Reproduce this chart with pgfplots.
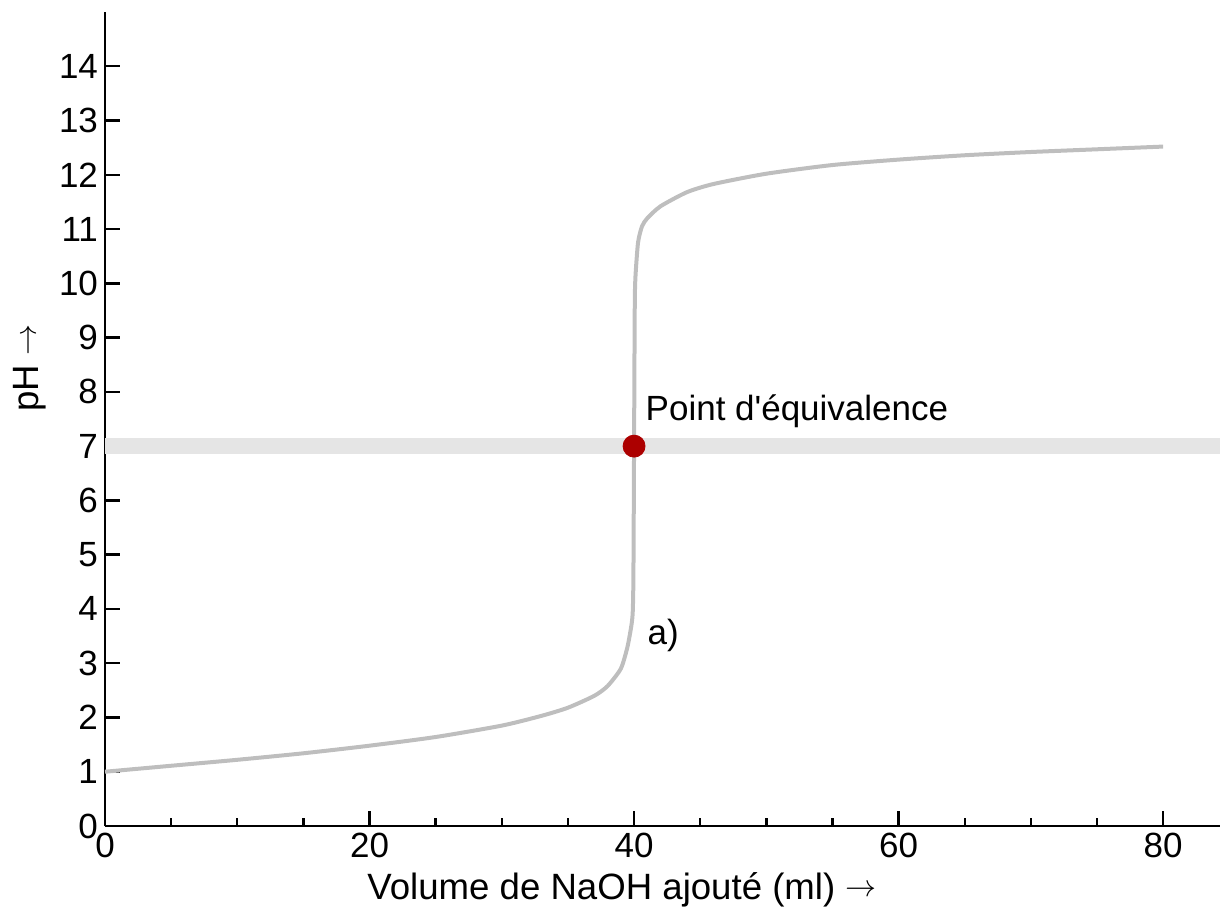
\documentclass[border=0pt]{standalone}
\usepackage{fontspec}
\setmainfont{Liberation Sans}
\usepackage{graphicx}
\usepackage{pgfplots}
\pgfplotsset{compat=1.18}
\definecolor{curvegray}{RGB}{190,190,190}
\definecolor{bandgray}{RGB}{229,229,229}
\definecolor{dotred}{RGB}{172,0,0}
\newcommand{\arr}{\raisebox{1.5pt}{\resizebox{15.5pt}{!}{$\rightarrow$}}}
\begin{document}
\begin{tikzpicture}
\begin{axis}[
  at={(0pt,0pt)}, anchor=south west,
  scale only axis,
  width=557.5pt, height=407pt,
  xmin=0, xmax=84.3, ymin=0, ymax=15,
  axis lines=left,
  axis line style={-, line width=1.4pt, black},
  tick align=inside,
  xtick={0,20,40,60,80},
  minor x tick num=3,
  ytick={0,1,...,14},
  major tick length=7.5pt,
  minor tick length=4pt,
  every tick/.style={black, line width=1.2pt},
  tick label style={font=\fontsize{17.5}{20}\selectfont},
  /pgf/number format/assume math mode=true,
  clip=false,
]
\addplot[bandgray, line width=8pt, forget plot] coordinates {(0,7) (84.3,7)};
\addplot[curvegray, line width=2pt, smooth, tension=0.4] coordinates {
(0,1.00) (5,1.11) (10,1.22) (15,1.34) (20,1.48) (25,1.64) (30,1.85)
(33,2.03) (35,2.18) (37,2.40) (38,2.58) (39,2.90) (39.5,3.30) (39.8,3.70)
(39.9,3.95) (39.95,4.6) (40,7.0) (40.05,9.5) (40.1,10.1) (40.3,10.75)
(40.6,11.05) (41,11.2) (42,11.42) (44,11.68) (46,11.83) (50,12.02)
(55,12.18) (60,12.28) (65,12.36) (70,12.42) (75,12.47) (80,12.52)
};
\addplot[only marks, mark=*, mark size=5.5pt, mark options={fill=dotred, draw=dotred}] coordinates {(40,7)};
\node[anchor=base west, inner sep=0pt, font=\fontsize{17.5}{20}\selectfont] at (axis cs:40.85,7.48) {Point d\textquotesingle équivalence};
\node[anchor=center, inner sep=0pt, font=\fontsize{17.5}{20}\selectfont] at (axis cs:42.2,3.52) {a)};
\end{axis}
\node[font=\fontsize{18.3}{20}\selectfont, anchor=center] at (258.5pt,-32pt) {Volume de NaOH ajouté (ml) \arr};
\node[font=\fontsize{18.3}{20}\selectfont, rotate=90, anchor=center] at (-37.5pt,229pt) {pH \arr};
\pgfresetboundingbox
\path (-52.5pt,-42.5pt) rectangle (557.5pt,413pt);
\end{tikzpicture}
\end{document}
